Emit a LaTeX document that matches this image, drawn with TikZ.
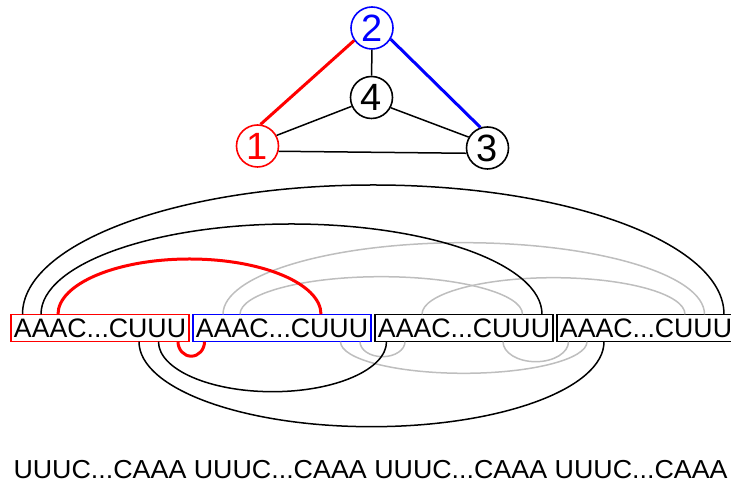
\documentclass[tikz,border=0pt]{standalone}
\usepackage{fontspec}
\setmainfont{Liberation Sans}
\usetikzlibrary{calc}
\definecolor{arcgray}{RGB}{190,190,190}
\newcommand\toparc[4]{\draw[#1] let \p1=(#2), \p2=(#3) in (#2) arc[start angle=180,end angle=0,x radius={(\x2-\x1)/2},y radius=#4];}
\newcommand\botarc[4]{\draw[#1] let \p1=(#2), \p2=(#3) in (#2) arc[start angle=180,end angle=360,x radius={(\x2-\x1)/2},y radius=#4];}
\begin{document}
\begin{tikzpicture}[x=1pt,y=1pt,
  vertex/.style={circle, draw, line width=1.6pt, minimum size=42pt, inner sep=0pt, fill=white, font=\fontsize{38}{40}\selectfont},
  seqbox/.style={draw, line width=1.4pt, minimum width=178pt, minimum height=27.4pt, inner sep=0pt, outer sep=0pt, font=\fontsize{26.7}{30}\selectfont},
  blackarc/.style={line width=1.5pt, black},
  grayarc/.style={line width=1.5pt, arcgray},
  redarc/.style={line width=3pt, red},
  graphedge/.style={line width=1.5pt, black},
  coloredge/.style={line width=3pt}
]
\useasboundingbox (0,0) rectangle (731,489);
\clip (0,0) rectangle (731,489);

% graph
\node[vertex, draw=blue, text=blue] (n2) at (372,461) {2};
\node[vertex] (n4) at (371.5,391.5) {4};
\node[vertex, draw=red, text=red] (n1) at (257.5,343) {1};
\node[vertex] (n3) at (487.5,341) {3};
\draw[coloredge, red] (n2.215) -- (n1.82);
\draw[coloredge, blue] (n2.329) -- (n3.109);
\draw[graphedge] (n2) -- (n4);
\draw[graphedge] (n4.204) -- (n1.29);
\draw[graphedge] (n4.332) -- (n3.150);
\draw[graphedge] (n1.346) -- (n3.194);

% sequence boxes
\node[seqbox, draw=red] (b1) at (100,161) {AAAC...CUUU};
\node[seqbox, draw=blue] (b2) at (282,161) {AAAC...CUUU};
\node[seqbox] (b3) at (464,161) {AAAC...CUUU};
\node[seqbox] (b4) at (646,161) {AAAC...CUUU};

\foreach \i in {1,...,4} {
  \foreach \n/\o in {a/11.5,b/30,c/47,d/128,e/147.5,f/167} {
    \coordinate (t\i\n) at ([xshift=\o pt]b\i.north west);
    \coordinate (u\i\n) at ([xshift=\o pt]b\i.south west);
  }
}

% gray arcs
\toparc{grayarc}{t2b}{t4e}{71.6pt}
\toparc{grayarc}{t2c}{t3e}{37.6pt}
\toparc{grayarc}{t3c}{t4d}{36.6pt}
\botarc{grayarc}{u2e}{u4b}{31.6pt}
\botarc{grayarc}{u2f}{u3b}{15pt}
\botarc{grayarc}{u3d}{u4a}{20pt}

% black arcs
\toparc{blackarc}{t1a}{t4f}{129.3pt}
\toparc{blackarc}{t1b}{t3f}{90.3pt}
\botarc{blackarc}{u1d}{u4c}{85pt}
\botarc{blackarc}{u1e}{u3a}{50pt}

% red arcs
\toparc{redarc}{t1c}{t2d}{55.3pt}
\botarc{redarc}{u1f}{u2a}{14.5pt}

% bottom text
\node[anchor=base west, inner sep=0pt, font=\fontsize{26}{30}\selectfont] (bottomtext) at (13.3,10.7)
  {\scalebox{1.032}[1]{UUUC...CAAA UUUC...CAAA UUUC...CAAA UUUC...CAAA}};
\end{tikzpicture}
\end{document}
